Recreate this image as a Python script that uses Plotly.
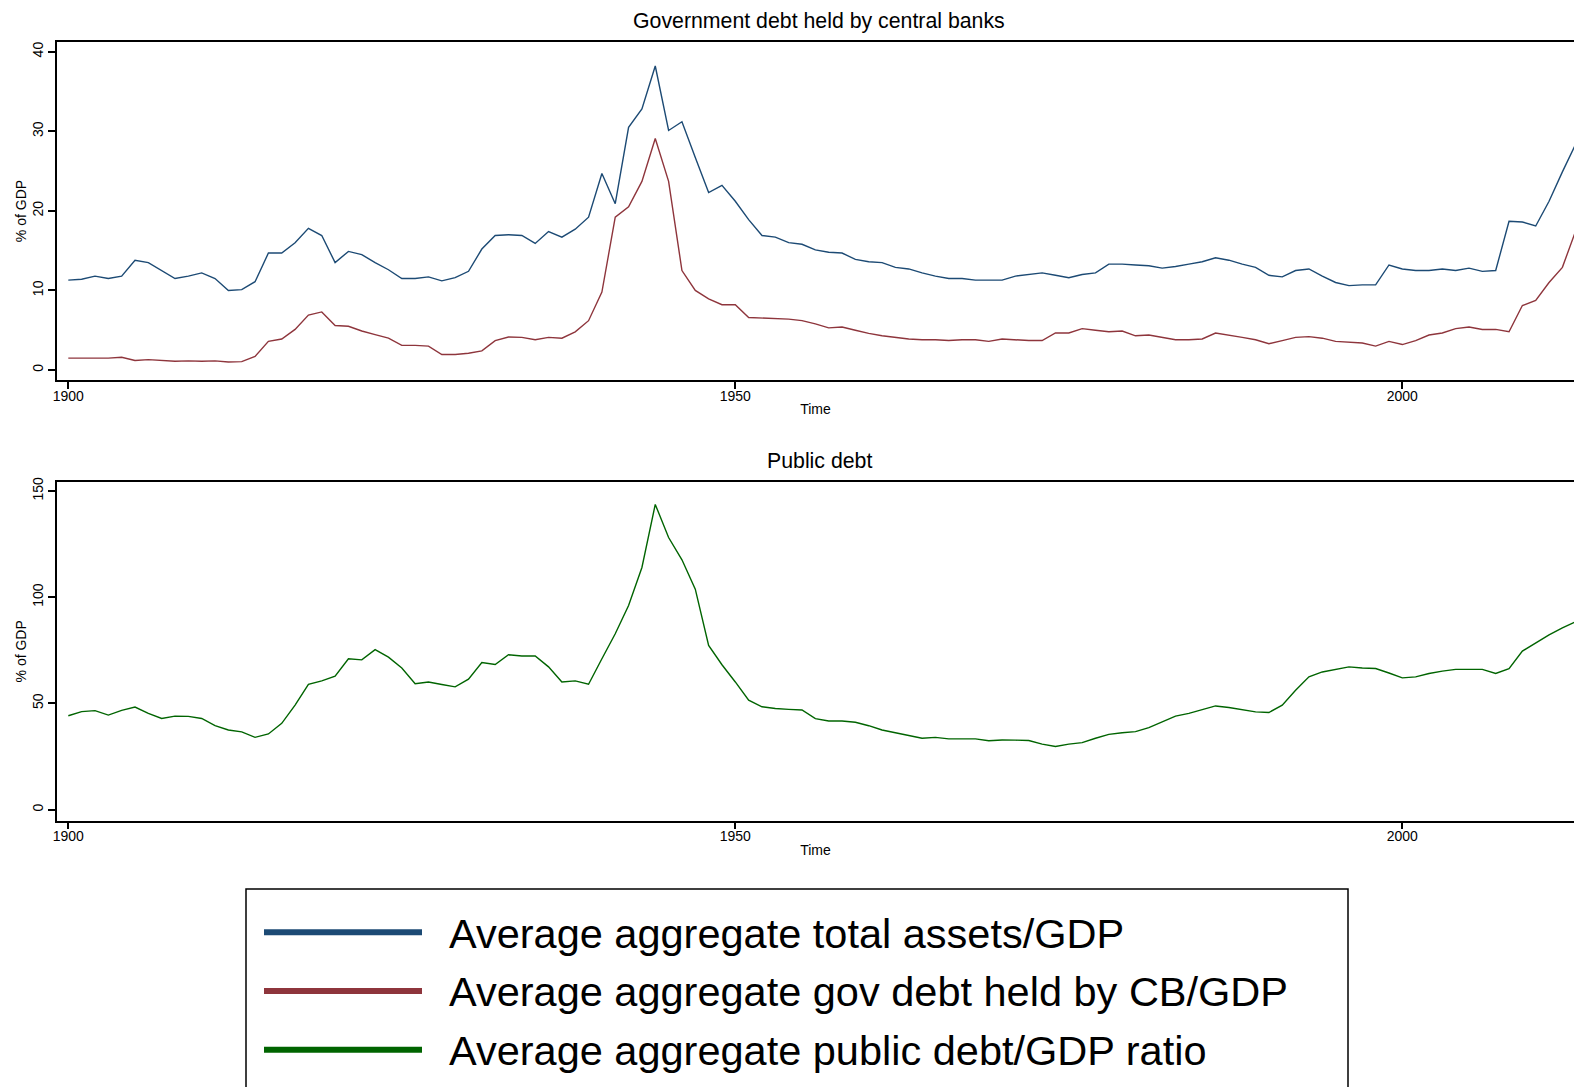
import plotly.graph_objects as go
from plotly.subplots import make_subplots

years = list(range(1900, 2014))

total_assets = [
    11.3, 11.4, 11.8, 11.5, 11.8, 13.8, 13.5, 12.5, 11.5, 11.8,
    12.2, 11.5, 10.0, 10.1, 11.1, 14.7, 14.7, 16.0, 17.8, 16.9,
    13.5, 14.9, 14.5, 13.5, 12.6, 11.5, 11.5, 11.7, 11.2, 11.6,
    12.4, 15.2, 16.9, 17.0, 16.9, 15.9, 17.4, 16.7, 17.7, 19.2,
    24.7, 20.9, 30.5, 32.8, 38.2, 30.1, 31.2, 26.7, 22.3, 23.2,
    21.2, 18.9, 16.9, 16.7, 16.0, 15.8, 15.1, 14.8, 14.7, 13.9,
    13.6, 13.5, 12.9, 12.7, 12.2, 11.8, 11.5, 11.5, 11.3, 11.3,
    11.3, 11.8, 12.0, 12.2, 11.9, 11.6, 12.0, 12.2, 13.3, 13.3,
    13.2, 13.1, 12.8, 13.0, 13.3, 13.6, 14.1, 13.8, 13.3, 12.9,
    11.9, 11.7, 12.5, 12.7, 11.8, 11.0, 10.6, 10.7, 10.7, 13.2,
    12.7, 12.5, 12.5, 12.7, 12.5, 12.8, 12.4, 12.5, 18.7, 18.6,
    18.1, 21.2, 24.9, 28.4,
]

gov_debt_cb = [
    1.5, 1.5, 1.5, 1.5, 1.6, 1.2, 1.3, 1.2, 1.1, 1.15,
    1.1, 1.15, 1.0, 1.05, 1.7, 3.6, 3.9, 5.1, 6.9, 7.3,
    5.6, 5.5, 4.9, 4.45, 4.0, 3.1, 3.1, 3.0, 1.95, 1.95,
    2.1, 2.4, 3.7, 4.15, 4.1, 3.8, 4.1, 4.0, 4.8, 6.2,
    9.8, 19.2, 20.5, 23.7, 29.1, 23.7, 12.5, 10.0, 8.95, 8.2,
    8.2, 6.6, 6.55, 6.5, 6.4, 6.2, 5.8, 5.3, 5.4, 5.0,
    4.6, 4.3, 4.1, 3.9, 3.8, 3.8, 3.7, 3.8, 3.8, 3.6,
    3.9, 3.8, 3.7, 3.7, 4.65, 4.65, 5.2, 5.0, 4.8, 4.9,
    4.3, 4.4, 4.1, 3.8, 3.8, 3.9, 4.65, 4.4, 4.1, 3.8,
    3.3, 3.7, 4.1, 4.2, 4.0, 3.6, 3.5, 3.4, 3.0, 3.6,
    3.2, 3.7, 4.4, 4.65, 5.2, 5.4, 5.1, 5.1, 4.8, 8.1,
    8.75, 11.0, 12.9, 17.5,
]

public_debt = [
    44.2, 46.1, 46.6, 44.5, 46.7, 48.3, 45.3, 42.9, 44.0, 43.9,
    42.9, 39.5, 37.5, 36.6, 34.0, 35.6, 40.6, 49.2, 59.0, 60.6,
    62.8, 71.0, 70.5, 75.3, 71.8, 66.7, 59.3, 60.1, 58.9, 57.8,
    61.4, 69.2, 68.3, 72.9, 72.3, 72.3, 67.2, 60.1, 60.6, 59.0,
    71.0, 82.8, 96.1, 114.0, 143.7, 128.1, 117.6, 103.8, 77.3, 68.2,
    60.1, 51.5, 48.4, 47.6, 47.2, 46.9, 42.8, 41.7, 41.7, 41.1,
    39.5, 37.5, 36.2, 34.8, 33.6, 34.0, 33.3, 33.3, 33.3, 32.4,
    32.8, 32.7, 32.5, 30.8, 29.7, 30.8, 31.5, 33.6, 35.4, 36.2,
    36.7, 38.6, 41.4, 44.0, 45.3, 47.2, 48.8, 48.1, 47.2, 46.0,
    45.7, 49.2, 56.2, 62.5, 64.8, 66.1, 67.2, 66.7, 66.4, 64.3,
    62.0, 62.5, 64.1, 65.2, 66.0, 66.0, 66.0, 64.1, 66.4, 74.6,
    78.6, 82.3, 85.6, 88.5,
]

series_names = [
    "Average aggregate total assets/GDP",
    "Average aggregate gov debt held by CB/GDP",
    "Average aggregate public debt/GDP ratio",
]
series_colors = ["#1c4a74", "#8e353c", "#006400"]

x_ticks = [1900, 1950, 2000]
top_y_ticks = [0, 10, 20, 30, 40]
bottom_y_ticks = [0, 50, 100, 150]

W, H = 1574, 1087
ML = 57
PW = W - ML
FONT = "Liberation Sans, Arial, Helvetica, sans-serif"


def px_x(p):
    return (p - ML) / PW


def px_y(p):
    return 1 - p / H


fig = make_subplots(rows=2, cols=1)

series_values = [total_assets, gov_debt_cb, public_debt]
series_rows = [1, 1, 2]
for name, vals, col, r in zip(series_names, series_values, series_colors, series_rows):
    fig.add_trace(go.Scatter(x=years, y=vals, mode="lines", name=name, showlegend=False,
                             legendgroup=name, line=dict(color=col, width=1.4)), row=r, col=1)

# legend entries (text only; long sample lines are drawn as shapes below)
for name in series_names:
    fig.add_trace(go.Scatter(x=[None], y=[None], mode="lines", name=name, legendgroup=name,
                             showlegend=True, hoverinfo="skip",
                             line=dict(color="rgba(0,0,0,0)", width=1)), row=2, col=1)

xrange = [1899.153, 2012.87]
common_x = dict(range=xrange, tickvals=x_ticks, ticks="outside", ticklen=7, tickwidth=1.5,
                tickcolor="black", showline=True, linecolor="black", linewidth=1.6,
                mirror=True, showgrid=False, zeroline=False, ticklabelstandoff=-5,
                tickfont=dict(family=FONT, size=14, color="black"),
                title=dict(text="Time", font=dict(family=FONT, size=14, color="black"), standoff=2))
common_y = dict(ticks="outside", ticklen=7, tickwidth=1.5, tickcolor="black",
                showline=True, linecolor="black", linewidth=1.6, mirror=False,
                showgrid=False, zeroline=False, tickangle=-90,
                tickfont=dict(family=FONT, size=14, color="black"),
                title=dict(text="% of GDP", font=dict(family=FONT, size=14, color="black"), standoff=0))

fig.update_xaxes(**common_x)
fig.update_yaxes(**common_y)

fig.update_yaxes(range=[-1.25, 41.2], tickvals=top_y_ticks, domain=[0.65345, 0.96569], row=1, col=1)
fig.update_yaxes(range=[-5.15, 154.2], tickvals=bottom_y_ticks, domain=[0.24628, 0.55906], row=2, col=1)

fig.add_annotation(text="Government debt held by central banks", x=px_x(819), y=px_y(16),
                   xref="paper", yref="paper", xanchor="center", yanchor="middle", showarrow=False,
                   font=dict(family=FONT, size=21.3, color="black"))
fig.add_annotation(text="Public debt", x=px_x(819), y=px_y(458),
                   xref="paper", yref="paper", xanchor="center", yanchor="middle", showarrow=False,
                   font=dict(family=FONT, size=21.3, color="black"))

# legend frame and long line samples
fig.add_shape(type="rect", xref="paper", yref="paper", x0=px_x(246), x1=px_x(1348),
              y0=-0.05, y1=px_y(888), line=dict(color="black", width=1.5))
row_y = [931.5, 990.5, 1049.5]
for yy, c in zip(row_y, series_colors):
    fig.add_shape(type="line", xref="paper", yref="paper", x0=px_x(264), x1=px_x(422),
                  y0=px_y(yy), y1=px_y(yy), line=dict(color=c, width=6))

fig.update_layout(
    width=W, height=H,
    margin=dict(l=ML, r=0, t=0, b=0),
    paper_bgcolor="white", plot_bgcolor="white",
    showlegend=True,
    legend=dict(x=px_x(409), y=px_y(897), xanchor="left", yanchor="top",
                itemwidth=30, font=dict(family=FONT, size=41.5, color="black"),
                bgcolor="rgba(0,0,0,0)", borderwidth=0, tracegroupgap=2,
                traceorder="grouped"),
    font=dict(family=FONT, color="black"),
)

fig.write_html("out.html", config={"displayModeBar": False},
               post_script="document.body.style.margin='0';document.body.style.overflow='hidden';")
